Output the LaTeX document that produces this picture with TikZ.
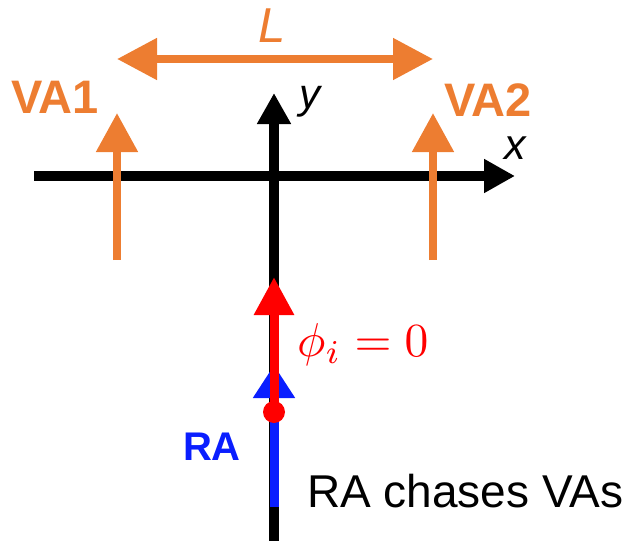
\documentclass[tikz,border=0pt]{standalone}
\usepackage{fontspec}
\usepackage{graphicx}
\usetikzlibrary{arrows.meta}
\newfontfamily\etqfont{Liberation Sans}
\definecolor{naranja}{RGB}{237,125,49}
\definecolor{azulra}{RGB}{10,30,255}
\definecolor{rojo}{RGB}{255,0,0}
\newcommand{\fuente}[1]{\etqfont\fontsize{#1}{#1}\selectfont}
\tikzset{
  eje/.style={line width=10pt, black, -{Triangle[length=31pt,width=32pt]}},
  flva/.style={line width=8pt, naranja, -{Triangle[length=39pt,width=40pt]}},
  fldist/.style={line width=8pt, naranja, {Triangle[length=40pt,width=40pt]}-{Triangle[length=40pt,width=40pt]}},
  flra/.style={line width=9pt, azulra, -{Triangle[length=33pt,width=40pt]}},
  flphi/.style={line width=9pt, rojo, -{Triangle[length=38pt,width=38pt]}},
  punto/.style={circle, fill=rojo, minimum size=22pt, inner sep=0pt},
  etq/.style={inner sep=0pt, anchor=base},
}

\begin{document}
\begin{tikzpicture}[x=1pt, y=-1pt]
  \useasboundingbox (0,0) rectangle (641,541);
  \coordinate (xini) at (34,176);
  \coordinate (xfin) at (515,176);
  \coordinate (yini) at (274,541);
  \coordinate (yfin) at (274,93);
  \coordinate (va1ini) at (117,260);
  \coordinate (va1fin) at (117,113);
  \coordinate (va2ini) at (433,260);
  \coordinate (va2fin) at (433,113);
  \coordinate (lizq) at (117,59);
  \coordinate (lder) at (433,59);
  \coordinate (raini) at (274,507);
  \coordinate (rafin) at (274,365);
  \coordinate (phifin) at (274,277);
  \draw[eje] (yini) -- (yfin);
  \draw[eje] (xini) -- (xfin);
  \draw[flva] (va1ini) -- (va1fin);
  \draw[flva] (va2ini) -- (va2fin);
  \draw[fldist] (lizq) -- (lder);
  \draw[flra] (raini) -- (rafin);
  \node[punto] (pos) at (274,412) {};
  \draw[flphi] (pos.center) -- (phifin);
  \node[etq, naranja, font=\fuente{47}\bfseries] (va1) at (55,113) {VA1};
  \node[etq, naranja, font=\fuente{47}\bfseries] (va2) at (488,116) {VA2};
  \node[etq, naranja, font=\fuente{49}\itshape] (dist) at (272,42) {L};
  \node[etq, font=\fuente{42}\itshape] (ylab) at (310,108) {y};
  \node[etq, font=\fuente{43}\itshape] (xlab) at (515,159) {x};
  \node[etq, anchor=base west, rojo] (fase) at (297,356) {\scalebox{4.75}{$\phi_i = 0$}};
  \node[etq, azulra, font=\fuente{40}\bfseries] (ra) at (212,460) {RA};
  \node[etq, anchor=base west, font=\fuente{46}] (nota) at (307,507) {RA chases VAs};
\end{tikzpicture}
\end{document}
